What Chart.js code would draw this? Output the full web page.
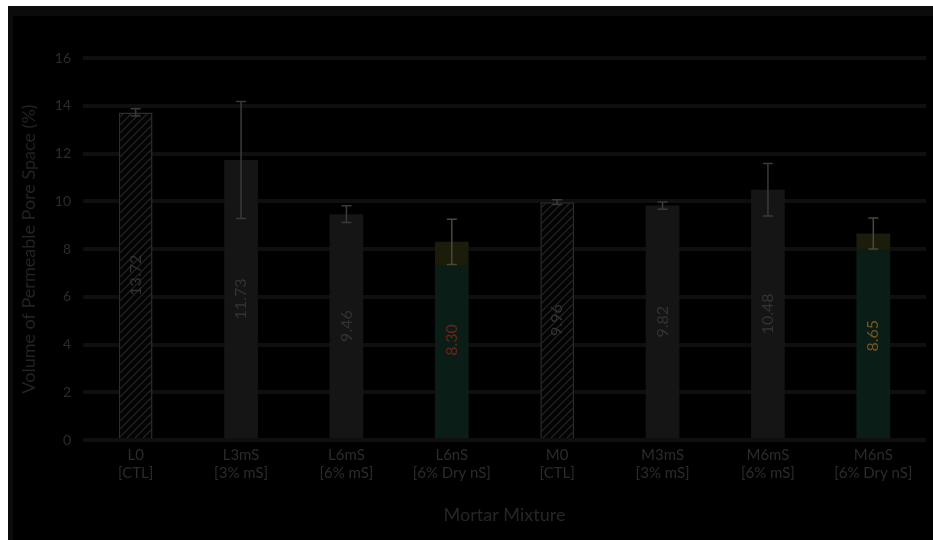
<!DOCTYPE html>
<html>
<head>
<meta charset="utf-8">
<script src="https://cdn.jsdelivr.net/npm/chart.js@4/dist/chart.umd.min.js"></script>
<style>
  html, body { margin: 0; padding: 0; background: #ffffff; }
  #wrap { position: absolute; left: 8px; top: 6px; width: 925px; height: 534px; background: #0b0b0b; }
  #box { position: absolute; left: 5px; top: 10px; width: 920px; height: 524px; background: #000; }
  canvas { display: block; }
</style>
</head>
<body>
<div id="wrap"><div id="box"><canvas id="c" width="920" height="524"></canvas></div></div>
<script>
// ---- data ----
const categories = [
  ['L0', '[CTL]'], ['L3mS', '[3% mS]'], ['L6mS', '[6% mS]'], ['L6nS', '[6% Dry nS]'],
  ['M0', '[CTL]'], ['M3mS', '[3% mS]'], ['M6mS', '[6% mS]'], ['M6nS', '[6% Dry nS]']
];
const values = [13.72, 11.73, 9.46, 8.30, 9.96, 9.82, 10.48, 8.65];
const errors = [0.15, 2.45, 0.35, 0.95, 0.10, 0.15, 1.10, 0.65];
const valueLabels = ['13.72', '11.73', '9.46', '8.30', '9.96', '9.82', '10.48', '8.65'];
const yMin = 0, yMax = 16, yStep = 2;

// ---- styling ----
const FONT = 'Lato, "Liberation Sans", sans-serif';
const hatchedBars = [0, 4];
const greenBars = [3, 7];
const GRAY = '#151515', GREEN = '#0a1e17', OLIVE = '#1b1c09';

const ctx2d = document.getElementById('c').getContext('2d');
const hatch = ctx2d.createPattern((() => {
  const p = document.createElement('canvas'); p.width = 8; p.height = 8;
  const g = p.getContext('2d');
  g.fillStyle = '#030303'; g.fillRect(0, 0, 8, 8);
  g.strokeStyle = '#272727'; g.lineWidth = 1.2;
  g.beginPath();
  g.moveTo(0, 8); g.lineTo(8, 0);
  g.moveTo(-2, 2); g.lineTo(2, -2);
  g.moveTo(6, 10); g.lineTo(10, 6);
  g.stroke();
  return p;
})(), 'repeat');

function barFill(c) {
  const i = c.dataIndex;
  if (hatchedBars.includes(i)) return hatch;
  if (greenBars.includes(i)) {
    const chart = c.chart;
    if (!chart.chartArea) return GREEN;
    const ys = chart.scales.y;
    const top = ys.getPixelForValue(values[i]);
    const lo = ys.getPixelForValue(values[i] - errors[i]);
    const bot = ys.getPixelForValue(0);
    const g = chart.ctx.createLinearGradient(0, top, 0, bot);
    const f = Math.min(1, Math.max(0, (lo - top) / (bot - top)));
    g.addColorStop(0, OLIVE); g.addColorStop(f, OLIVE);
    g.addColorStop(f, GREEN); g.addColorStop(1, GREEN);
    return g;
  }
  return GRAY;
}

const errorBars = {
  id: 'errorBars',
  afterDatasetsDraw(chart) {
    const meta = chart.getDatasetMeta(0);
    const ys = chart.scales.y;
    const c = chart.ctx;
    c.save();
    meta.data.forEach((bar, i) => {
      const yt = ys.getPixelForValue(values[i] + errors[i]);
      const yb = ys.getPixelForValue(values[i] - errors[i]);
      c.strokeStyle = greenBars.includes(i) ? '#4a4a36' : '#3a3a3a';
      c.lineWidth = 1.5;
      c.beginPath();
      c.moveTo(bar.x, yt); c.lineTo(bar.x, yb);
      c.moveTo(bar.x - 5, yt); c.lineTo(bar.x + 5, yt);
      c.moveTo(bar.x - 5, yb); c.lineTo(bar.x + 5, yb);
      c.stroke();
    });
    c.restore();
  }
};

const barLabels = {
  id: 'barLabels',
  afterDatasetsDraw(chart) {
    const meta = chart.getDatasetMeta(0);
    const c = chart.ctx;
    const labelColors = { 3: '#6e2318', 7: '#7a5418' };
    meta.data.forEach((bar, i) => {
      const cy = (bar.y + bar.base) / 2;
      c.save();
      c.translate(bar.x, cy);
      c.rotate(-Math.PI / 2);
      c.font = '16px ' + FONT;
      c.fillStyle = labelColors[i] || '#333333';
      c.textAlign = 'center';
      c.textBaseline = 'middle';
      c.fillText(valueLabels[i], 0, 0);
      c.restore();
    });
  }
};

new Chart(ctx2d, {
  type: 'bar',
  data: {
    labels: categories,
    datasets: [{
      data: values,
      backgroundColor: barFill,
      borderColor: (c) => hatchedBars.includes(c.dataIndex) ? '#2c2c2c' : 'rgba(0,0,0,0)',
      borderWidth: (c) => hatchedBars.includes(c.dataIndex) ? 1.5 : 0,
      barPercentage: 0.32,
      categoryPercentage: 1.0
    }]
  },
  options: {
    responsive: false,
    animation: false,
    layout: { padding: { top: 42, right: 7, left: 0, bottom: 0 } },
    plugins: { legend: { display: false }, tooltip: { enabled: false } },
    scales: {
      x: {
        grid: { display: false, drawTicks: false },
        border: { display: false },
        ticks: { color: '#2b2b2b', font: { family: FONT, size: 15, lineHeight: 1.15 }, padding: 7, maxRotation: 0, autoSkip: false },
        title: { display: true, text: 'Mortar Mixture', color: '#262626', font: { family: FONT, size: 18 }, padding: { top: 4, bottom: 14 } },
        afterFit(s) { s.height = 100; }
      },
      y: {
        min: yMin, max: yMax,
        ticks: { stepSize: yStep, color: '#2b2b2b', font: { family: FONT, size: 14 }, padding: 12 },
        grid: { color: '#0f0f0f', lineWidth: 4, drawTicks: false },
        border: { display: false },
        title: { display: true, text: 'Volume of Permeable Pore Space (%)', color: '#222222', font: { family: FONT, size: 18 }, padding: { top: 5, bottom: 4 } },
        afterFit(s) { s.width = 70; }
      }
    }
  },
  plugins: [errorBars, barLabels]
});
</script>
</body>
</html>
